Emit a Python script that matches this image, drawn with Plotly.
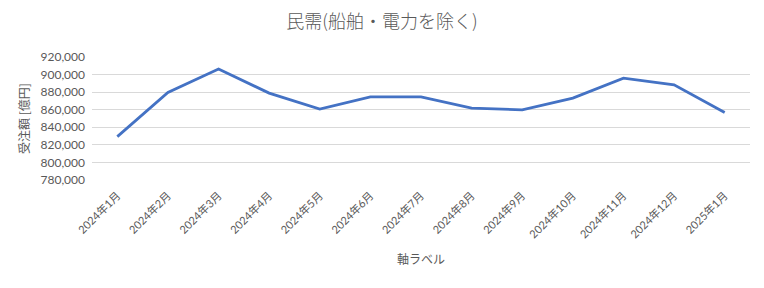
import plotly.graph_objects as go

categories = ["2024年1月", "2024年2月", "2024年3月", "2024年4月", "2024年5月", "2024年6月",
              "2024年7月", "2024年8月", "2024年9月", "2024年10月", "2024年11月", "2024年12月", "2025年1月"]
values = [829400, 879600, 906300, 878900, 860700, 874700, 874700, 861800, 859900, 873200, 896000, 888400, 856800]
y_ticks = [780000, 800000, 820000, 840000, 860000, 880000, 900000, 920000]
y_ticklabels = [f"{v:,}" for v in y_ticks]

title_text = "民需(船舶・電力を除く)"
y_title = "受注額 [億円]"
x_title = "軸ラベル"

gray = "#595959"
font_main = "Lato, 'Noto Sans CJK JP', sans-serif"

fig = go.Figure()
fig.add_trace(go.Scatter(
    x=categories, y=values, mode="lines",
    line=dict(color="#4472C4", width=2.8),
    hoverinfo="x+y",
))

fig.update_layout(
    width=764, height=288,
    margin=dict(l=92, r=14, t=57, b=108),
    paper_bgcolor="white", plot_bgcolor="white",
    showlegend=False,
    title=dict(text=title_text, x=0.5, xanchor="center", y=1 - 22/288, yanchor="middle",
               font=dict(family="'Noto Sans CJK JP', sans-serif", size=18, color=gray, weight=300)),
    font=dict(family=font_main, color=gray, size=12),
)

fig.update_xaxes(
    type="category", range=[-0.5, len(categories) - 0.5],
    tickangle=-45, tickfont=dict(size=11, color=gray, family=font_main),
    showgrid=False, showline=False, ticks="",
    ticklabelstandoff=6,
    title=dict(text=x_title, font=dict(size=12, color=gray, family="'Noto Sans CJK JP', sans-serif"), standoff=16),
    automargin=False,
)
fig.update_yaxes(
    range=[780000, 920000], tickvals=y_ticks, ticktext=y_ticklabels,
    showgrid=True, gridcolor="#D9D9D9", gridwidth=1,
    zeroline=False, showline=False, ticks="",
    tickfont=dict(size=12, color=gray, family=font_main),
    ticklabelstandoff=6,
    title=dict(text=y_title, font=dict(size=12, color=gray, family="'Noto Sans CJK JP', sans-serif"), standoff=8),
    automargin=False,
)

fig.write_html("out.html")
